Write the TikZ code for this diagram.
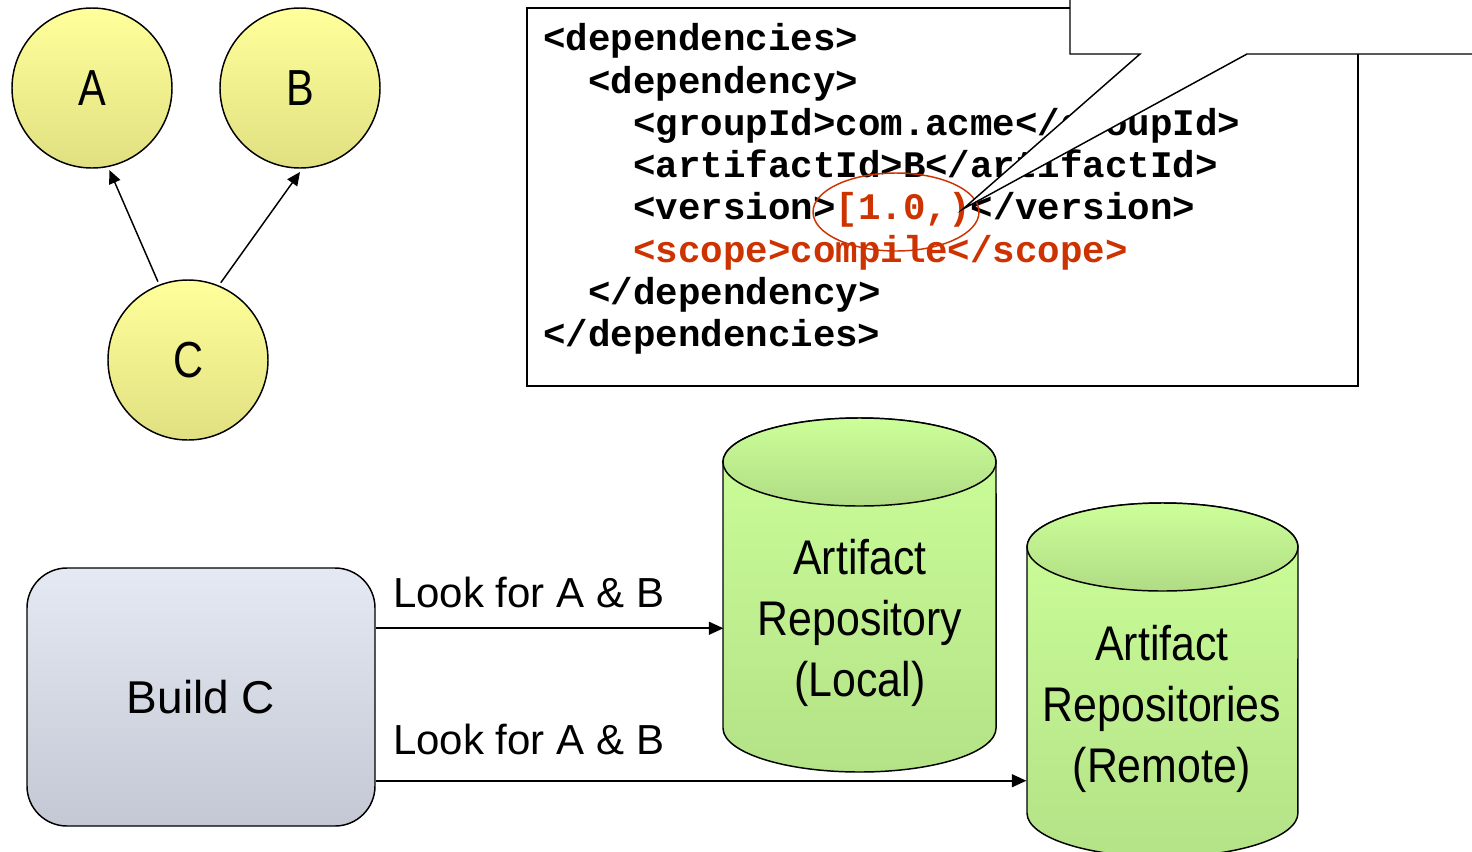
\documentclass[tikz,border=0pt]{standalone}
\usepackage{fontspec}
\setmainfont{Liberation Sans}
\newfontfamily\repofont{Liberation Sans}[FakeStretch=0.88]
\newfontfamily\letterfont{Liberation Sans}[FakeStretch=0.82]
\newfontfamily\codefont{Liberation Mono}
\usetikzlibrary{arrows.meta,shapes.geometric}

\definecolor{codered}{RGB}{204,51,0}
\definecolor{circtop}{RGB}{255,255,155}
\definecolor{circbot}{RGB}{224,224,130}
\definecolor{buildtop}{RGB}{229,233,243}
\definecolor{buildbot}{RGB}{196,200,212}
\definecolor{cyltop}{RGB}{204,255,153}
\definecolor{cylbot}{RGB}{180,226,135}
\definecolor{lidtop}{RGB}{204,255,153}
\definecolor{lidbot}{RGB}{176,220,132}

\tikzset{
  dep/.style={circle, draw, line width=1.1pt, minimum size=120pt, inner sep=0pt,
    outer sep=3pt, top color=circtop, bottom color=circbot,
    font=\letterfont\fontsize{38pt}{40pt}\selectfont},
  thinarr/.style={-{Triangle[length=10pt,width=9pt]}, line width=1.1pt},
  flowarr/.style={-{Triangle[length=11pt,width=9.5pt]}, line width=1.8pt},
  codeline/.style={anchor=base west, inner sep=0pt,
    font=\codefont\bfseries\fontsize{28.1pt}{31.6pt}\selectfont},
  repolabel/.style={anchor=base, inner sep=0pt,
    font=\repofont\fontsize{36.5pt}{42pt}\selectfont},
  looklabel/.style={anchor=base west, inner sep=0pt,
    font=\fontsize{31.5pt}{36pt}\selectfont},
  cylbody/.style={draw, line width=1.1pt, top color=cyltop, bottom color=cylbot},
  cyllid/.style={draw, line width=1.1pt, top color=lidtop, bottom color=lidbot},
  repobody/.style={inner sep=0pt, outer sep=0pt, minimum width=204pt},
}

\begin{document}
\begin{tikzpicture}[x=0.75pt,y=-0.75pt]
\useasboundingbox (0,0) rectangle (1472,851);
\clip (0,0) rectangle (1472,851);

% dependency graph
\node[dep] (A) at (92,88) {A};
\node[dep] (B) at (300,88) {B};
\node[dep] (C) at (188,360) {C};
\draw[thinarr] (C.111) -- (A.282);
\draw[thinarr] (C.67) -- (B.270);

% POM fragment
\node[draw, line width=1.3pt, minimum width=623.25pt, minimum height=283.5pt,
  inner sep=0pt] (codebox) at (942.5,197) {};
\node[codeline] (l1) at (543,50.5) {<dependencies>};
\node[codeline] (l2) at (588,93) {<dependency>};
\node[codeline] (l3) at (633,135) {<groupId>com.acme</groupId>};
\node[codeline] (l4) at (633,177) {<artifactId>B</artifactId>};
\node[codeline] (l5) at (633,219) {<version>\textcolor{codered}{[1.0,)}</version>};
\node[codeline, text=codered] (l6) at (633,262) {<scope>compile</scope>};
\node[codeline] (l7) at (588,304) {</dependency>};
\node[codeline] (l8) at (543,346) {</dependencies>};
\node[ellipse, draw=codered, line width=1.1pt, minimum width=124.5pt,
  minimum height=58.5pt, inner sep=0pt] (range) at (896,212) {};

% callout pointing at the version range
\coordinate (tip) at (963,209);
\path[draw, fill=white, line width=1.1pt]
  (1070,-10) -- (1070,54) -- (1140,54) -- (tip) -- (1247,54)
  -- (1490,54) -- (1490,-10) -- cycle;

% build and repositories
\node[draw, line width=1.1pt, rounded corners=30pt, minimum width=261pt,
  minimum height=193.5pt, top color=buildtop, bottom color=buildbot,
  font=\fontsize{34.5pt}{40pt}\selectfont] (build) at (201,697) {Build C};

% local repository cylinder
\path[cylbody] (723,462) -- (723,728)
  arc[start angle=180, end angle=360, x radius=102.4pt, y radius=33pt]
  -- (996,462)
  arc[start angle=0, end angle=180, x radius=102.4pt, y radius=33pt] -- cycle;
\path[cyllid] (859.5,462) ellipse[x radius=102.4pt, y radius=33pt];
\node[repobody, minimum height=266pt] (local) at (859.5,594.5) {};
\node[repolabel] (local1) at (860,574) {Artifact};
\node[repolabel] (local2) at (860,635) {Repository};
\node[repolabel] (local3) at (860,696) {(Local)};

% remote repositories cylinder
\path[cylbody] (1027,547) -- (1027,813)
  arc[start angle=180, end angle=360, x radius=101.6pt, y radius=33pt]
  -- (1298,547)
  arc[start angle=0, end angle=180, x radius=101.6pt, y radius=33pt] -- cycle;
\path[cyllid] (1162.5,547) ellipse[x radius=101.6pt, y radius=33pt];
\node[repobody, minimum height=265pt] (remote) at (1162.5,680) {};
\node[repolabel] (remote1) at (1162,660) {Artifact};
\node[repolabel] (remote2) at (1162,721) {Repositories};
\node[repolabel] (remote3) at (1162,782) {(Remote)};

% lookups
\path (build.north east) ++(0,61) coordinate (p1);
\path (build.south east) ++(0,-46) coordinate (p2);
\draw[flowarr] (p1) -- (p1 -| local.west);
\draw[flowarr] (p2) -- (p2 -| remote.west);
\node[looklabel] (look1) at (393,607) {Look for A \& B};
\node[looklabel] (look2) at (393,754) {Look for A \& B};
\end{tikzpicture}
\end{document}
